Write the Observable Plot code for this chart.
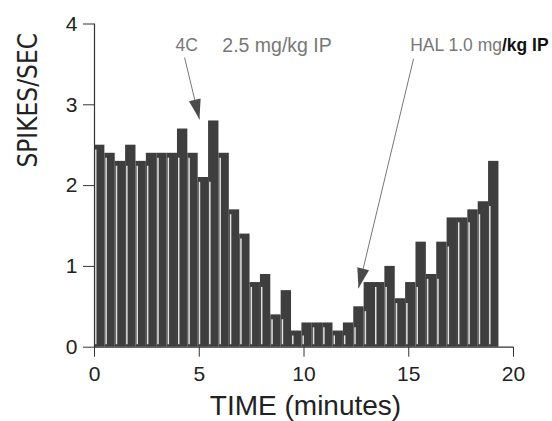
<!DOCTYPE html>
<html>
<head>
<meta charset="utf-8">
<script src="https://cdn.jsdelivr.net/npm/d3@7"></script>
<script src="https://cdn.jsdelivr.net/npm/@observablehq/plot@0.6"></script>
<style>
  html, body { margin: 0; padding: 0; background: #fff; }
  #chart { width: 552px; height: 421px; }
</style>
</head>
<body>
<div id="chart"></div>
<script>
// Firing rate per bin (spikes/sec)
const spikeRates = [2.5, 2.4, 2.3, 2.5, 2.3, 2.4, 2.4, 2.4, 2.7, 2.4,
                    2.1, 2.8, 2.4, 1.7, 1.4, 0.8, 0.9, 0.4, 0.7, 0.2,
                    0.3, 0.3, 0.3, 0.2, 0.3, 0.5, 0.8, 0.8, 1.0, 0.6,
                    0.8, 1.3, 0.9, 1.3, 1.6, 1.6, 1.7, 1.8, 2.3];
const binWidth = 0.495; // minutes per bin (as measured on the picture)
const xTicks = [0, 5, 10, 15, 20];
const yTicks = [0, 1, 2, 3, 4];
const xLabel = "TIME (minutes)";
const yLabel = "SPIKES/SEC";

// Drug injection annotations
const arrowTails = [[4.3, 3.585], [15.23, 3.57]];
const arrowTips = [[5.01, 2.82], [12.6, 0.73]];
const arrowAngles = [166.5, 193.5];
const noteTexts = ["4C", "2.5 mg/kg IP", "HAL 1.0 mg", "/kg IP"];
const noteX = [3.87, 6.1, 19.45, 19.45];
const noteAnchors = ["start", "start", "end", "start"];

const bars = spikeRates.map((v, i) => ({
  x1: i * binWidth,
  x2: (i + 1) * binWidth,
  y: v,
  sep: Math.min(i > 0 ? spikeRates[i - 1] : v, v)
}));
const arrows = arrowTails.map((t, i) => ({
  x1: t[0], y1: t[1], x2: arrowTips[i][0], y2: arrowTips[i][1], rot: arrowAngles[i]
}));
const notes = noteTexts.map((t, i) => ({text: t, x: noteX[i], anchor: noteAnchors[i], idx: i}));

const chart = Plot.plot({
  width: 552,
  height: 421,
  marginLeft: 94,
  marginRight: 39,
  marginTop: 23.5,
  marginBottom: 74.3,
  x: {domain: [0, 20]},
  y: {domain: [0, 4]},
  style: {fontFamily: "'Liberation Sans', Arial, sans-serif", background: "#fff", color: "#222"},
  marks: [
    Plot.rectY(bars, {x1: "x1", x2: "x2", y1: 0, y2: "y", fill: "#3e3e3e", inset: 0}),
    Plot.ruleX(bars, {x: d => d.x1 + 0.06, y1: 0.03, y2: d => d.sep - 0.06, stroke: "#e2e2e2", strokeWidth: 1.5}),
    Plot.ruleY([0], {x1: 0, x2: 20, stroke: "#333", strokeWidth: 1.2}),
    Plot.ruleX([0], {y1: 0, y2: 4, stroke: "#333", strokeWidth: 1.2}),
    Plot.axisX({ticks: xTicks, tickSize: 10, tickPadding: 9, fontSize: 21, label: null, stroke: "#333", tickFormat: d => String(d)}),
    Plot.axisY({ticks: yTicks, tickSize: 11, tickPadding: 6, fontSize: 21, label: null, stroke: "#333", tickFormat: d => String(d)}),
    Plot.text([yLabel], {frameAnchor: "left", dx: -65.4, dy: -18, rotate: -90, fontSize: 26,
      fontFamily: "'Liberation Sans Narrow', 'DejaVu Sans Condensed', sans-serif", fill: "#222"}),
    Plot.text([xLabel], {frameAnchor: "bottom", lineAnchor: "middle", dx: 1.5, dy: 58.8, fontSize: 28, fill: "#222"}),
    Plot.link(arrows, {x1: "x1", y1: "y1", x2: "x2", y2: "y2", stroke: "#777", strokeWidth: 1}),
    Plot.vector(arrows, {x: "x2", y: "y2", rotate: "rot", length: 20, r: 6, shape: "spike", anchor: "end", fill: "#4a4a4a", stroke: "none"}),
    Plot.text(notes.filter(d => d.idx === 0), {x: "x", y: 3.73, text: "text", textAnchor: "start", fontSize: 17.5, fill: "#777"}),
    Plot.text(notes.filter(d => d.idx === 1), {x: "x", y: 3.73, text: "text", textAnchor: "start", fontSize: 19.5, fill: "#777"}),
    Plot.text(notes.filter(d => d.idx === 2), {x: "x", y: 3.73, text: "text", textAnchor: "end", fontSize: 17.5, fill: "#777"}),
    Plot.text(notes.filter(d => d.idx === 3), {x: "x", y: 3.73, text: "text", textAnchor: "start", fontSize: 17.5, fill: "#111", fontWeight: "bold"})
  ]
});
document.getElementById("chart").appendChild(chart);
</script>
</body>
</html>
